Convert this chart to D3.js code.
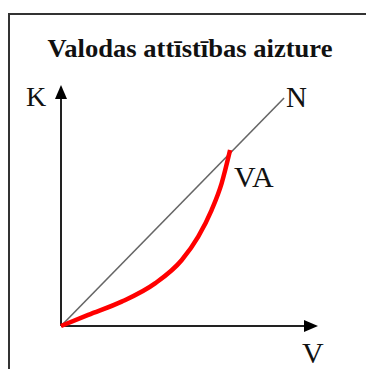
<!DOCTYPE html>
<html>
<head>
<meta charset="utf-8">
<script src="https://cdn.jsdelivr.net/npm/d3@7"></script>
<style>
  html, body { margin: 0; padding: 0; background: #fff; }
  svg { display: block; }
</style>
</head>
<body>
<svg id="chart" width="366" height="369"></svg>
<script>
// Schematic: speech development delay (VA) against the normal line (N)
const title = "Valodas attīstības aizture";
const axisLabels = ["V", "K"];
const normLabel = "N";
const delayLabel = "VA";

// Normal development: straight line from origin
const normX = [0, 8.68];
const normY = [0, 9.46];

// Delayed development curve
const delayX = [0, 1.06, 2.36, 3.66, 4.70, 5.34, 5.86, 6.25, 6.58];
const delayY = [0, 0.46, 1.01, 1.77, 2.74, 3.71, 4.81, 5.92, 7.30];

const axisMax = [10, 10];

const svg = d3.select("#chart");
const x = d3.scaleLinear().domain([0, 10]).range([61, 318]);
const y = d3.scaleLinear().domain([0, 10]).range([326, 85]);

// Frame
svg.append("rect")
  .attr("x", 9).attr("y", 14).attr("width", 400).attr("height", 400)
  .attr("fill", "none").attr("stroke", "#333").attr("stroke-width", 2);

// Title
svg.append("text")
  .attr("x", 190).attr("y", 57)
  .attr("text-anchor", "middle")
  .attr("font-family", "'Liberation Serif', 'Times New Roman', serif")
  .attr("font-weight", "bold")
  .attr("font-size", 25.5)
  .attr("fill", "#111")
  .attr("textLength", 285)
  .attr("lengthAdjust", "spacingAndGlyphs")
  .text(title);

// Axes with arrowheads
const axisColor = "#222";
svg.append("line")
  .attr("x1", x(0)).attr("y1", y(0)).attr("x2", x(axisMax[0]) - 12).attr("y2", y(0))
  .attr("stroke", axisColor).attr("stroke-width", 2);
svg.append("path")
  .attr("d", `M${x(axisMax[0])},${y(0)} L${x(axisMax[0]) - 14},${y(0) - 6} L${x(axisMax[0]) - 14},${y(0) + 6} Z`)
  .attr("fill", "#000");

svg.append("line")
  .attr("x1", x(0)).attr("y1", y(0)).attr("x2", x(0)).attr("y2", y(axisMax[1]) + 12)
  .attr("stroke", axisColor).attr("stroke-width", 2);
svg.append("path")
  .attr("d", `M${x(0)},${y(axisMax[1])} L${x(0) - 6},${y(axisMax[1]) + 14} L${x(0) + 6},${y(axisMax[1]) + 14} Z`)
  .attr("fill", "#000");

// Normal line
const line = d3.line().x(d => x(d[0])).y(d => y(d[1]));
svg.append("path")
  .attr("d", line(d3.zip(normX, normY)))
  .attr("fill", "none").attr("stroke", "#666").attr("stroke-width", 1.6);

// Delay curve
const curve = d3.line().x(d => x(d[0])).y(d => y(d[1])).curve(d3.curveMonotoneX);
svg.append("path")
  .attr("d", curve(d3.zip(delayX, delayY)))
  .attr("fill", "none").attr("stroke", "#ff0000").attr("stroke-width", 4.5)
  .attr("stroke-linecap", "butt");

// Labels
const labelFont = "'Liberation Serif', 'Times New Roman', serif";
function label(txt, px, py, size) {
  svg.append("text")
    .attr("x", px).attr("y", py)
    .attr("font-family", labelFont)
    .attr("font-size", size)
    .attr("fill", "#111")
    .text(txt);
}
label(axisLabels[1], x(0) - 35, y(axisMax[1]) + 21, 28);
label(axisLabels[0], x(axisMax[0]) - 16, y(0) + 37, 30);
label(normLabel, x(normX[1]) + 2, y(normY[1]) + 9, 29);
label(delayLabel, x(delayX[delayX.length - 1]) + 4, y(delayY[delayY.length - 1]) + 37, 30);
</script>
</body>
</html>
